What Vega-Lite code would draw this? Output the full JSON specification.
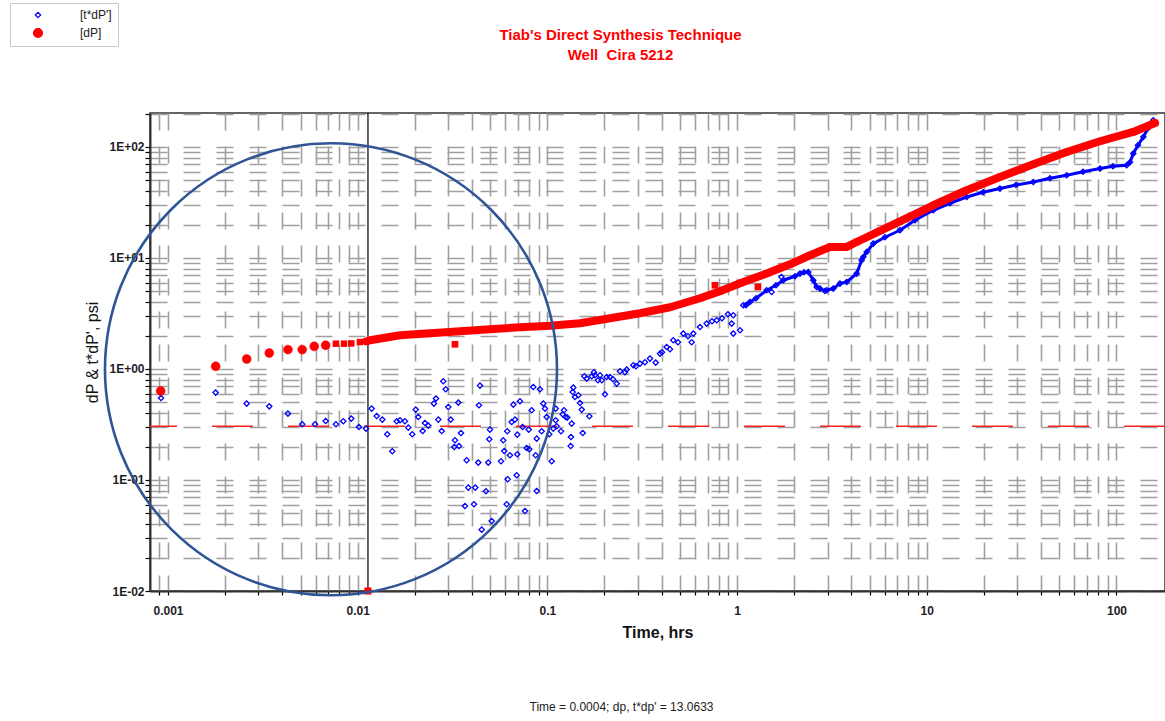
{
  "$schema": "https://vega.github.io/schema/vega-lite/v6.json",
  "width": 1015,
  "height": 478,
  "autosize": {"type": "none"},
  "padding": {"left": 150, "top": 113, "right": 0, "bottom": 130},
  "background": "white",
  "config": {
    "font": "Liberation Sans",
    "view": {"stroke": "#333333", "strokeWidth": 1.5},
    "legend": {
      "orient": "none",
      "legendX": -140,
      "legendY": -110,
      "fillColor": "#ffffff",
      "strokeColor": "#c8c8c8",
      "padding": 6,
      "labelFont": "Liberation Sans",
      "labelFontSize": 12,
      "labelColor": "#222222",
      "symbolOffset": 16,
      "labelOffset": 36,
      "rowPadding": 5,
      "symbolStrokeWidth": 1.2
    }
  },
  "title": {
    "text": ["Tiab's Direct Synthesis Technique", "Well\u00a0\u00a0Cira 5212"],
    "color": "#ff0000",
    "font": "Liberation Sans",
    "fontSize": 15,
    "fontWeight": "bold",
    "anchor": "middle",
    "frame": "group",
    "dx": -37,
    "offset": -60,
    "lineHeight": 20
  },
  "datasets": {
    "tdp": [
      {"t": 0.000919, "p": 0.548, "series": "[t*dP']"},
      {"t": 0.001784, "p": 0.613, "series": "[t*dP']"},
      {"t": 0.0026, "p": 0.488, "series": "[t*dP']"},
      {"t": 0.00342, "p": 0.461, "series": "[t*dP']"},
      {"t": 0.00429, "p": 0.3965, "series": "[t*dP']"},
      {"t": 0.0051, "p": 0.3177, "series": "[t*dP']"},
      {"t": 0.00596, "p": 0.3177, "series": "[t*dP']"},
      {"t": 0.00678, "p": 0.34, "series": "[t*dP']"},
      {"t": 0.00768, "p": 0.3177, "series": "[t*dP']"},
      {"t": 0.0084, "p": 0.338, "series": "[t*dP']"},
      {"t": 0.00925, "p": 0.3573, "series": "[t*dP']"},
      {"t": 0.01016, "p": 0.3002, "series": "[t*dP']"},
      {"t": 0.01106, "p": 0.2904, "series": "[t*dP']"},
      {"t": 0.01185, "p": 0.4396, "series": "[t*dP']"},
      {"t": 0.0126, "p": 0.3773, "series": "[t*dP']"},
      {"t": 0.01348, "p": 0.35, "series": "[t*dP']"},
      {"t": 0.01432, "p": 0.258, "series": "[t*dP']"},
      {"t": 0.01522, "p": 0.1814, "series": "[t*dP']"},
      {"t": 0.01606, "p": 0.338, "series": "[t*dP']"},
      {"t": 0.01671, "p": 0.345, "series": "[t*dP']"},
      {"t": 0.01775, "p": 0.338, "series": "[t*dP']"},
      {"t": 0.01848, "p": 0.2965, "series": "[t*dP']"},
      {"t": 0.0194, "p": 0.258, "series": "[t*dP']"},
      {"t": 0.02022, "p": 0.4306, "series": "[t*dP']"},
      {"t": 0.02087, "p": 0.3695, "series": "[t*dP']"},
      {"t": 0.02201, "p": 0.2763, "series": "[t*dP']"},
      {"t": 0.02263, "p": 0.3263, "series": "[t*dP']"},
      {"t": 0.02356, "p": 0.309, "series": "[t*dP']"},
      {"t": 0.02524, "p": 0.488, "series": "[t*dP']"},
      {"t": 0.02587, "p": 0.5413, "series": "[t*dP']"},
      {"t": 0.0266, "p": 0.35, "series": "[t*dP']"},
      {"t": 0.02773, "p": 0.2763, "series": "[t*dP']"},
      {"t": 0.02826, "p": 0.7748, "series": "[t*dP']"},
      {"t": 0.02911, "p": 0.6565, "series": "[t*dP']"},
      {"t": 0.03004, "p": 0.4546, "series": "[t*dP']"},
      {"t": 0.03093, "p": 0.35, "series": "[t*dP']"},
      {"t": 0.03231, "p": 0.1983, "series": "[t*dP']"},
      {"t": 0.03258, "p": 0.2279, "series": "[t*dP']"},
      {"t": 0.0342, "p": 0.2025, "series": "[t*dP']"},
      {"t": 0.03391, "p": 0.498, "series": "[t*dP']"},
      {"t": 0.03504, "p": 0.2651, "series": "[t*dP']"},
      {"t": 0.03754, "p": 0.1505, "series": "[t*dP']"},
      {"t": 0.03828, "p": 0.0854, "series": "[t*dP']"},
      {"t": 0.03677, "p": 0.0583, "series": "[t*dP']"},
      {"t": 0.04103, "p": 0.0604, "series": "[t*dP']"},
      {"t": 0.04168, "p": 0.0854, "series": "[t*dP']"},
      {"t": 0.04322, "p": 0.1435, "series": "[t*dP']"},
      {"t": 0.04359, "p": 0.471, "series": "[t*dP']"},
      {"t": 0.04412, "p": 0.7086, "series": "[t*dP']"},
      {"t": 0.04745, "p": 0.0791, "series": "[t*dP']"},
      {"t": 0.0488, "p": 0.1435, "series": "[t*dP']"},
      {"t": 0.04981, "p": 0.2845, "series": "[t*dP']"},
      {"t": 0.04939, "p": 0.2326, "series": "[t*dP']"},
      {"t": 0.04506, "p": 0.0357, "series": "[t*dP']"},
      {"t": 0.05086, "p": 0.0427, "series": "[t*dP']"},
      {"t": 0.05693, "p": 0.1474, "series": "[t*dP']"},
      {"t": 0.05926, "p": 0.1825, "series": "[t*dP']"},
      {"t": 0.06102, "p": 0.0604, "series": "[t*dP']"},
      {"t": 0.06176, "p": 0.1015, "series": "[t*dP']"},
      {"t": 0.05854, "p": 0.2279, "series": "[t*dP']"},
      {"t": 0.06146, "p": 0.2747, "series": "[t*dP']"},
      {"t": 0.0635, "p": 0.167, "series": "[t*dP']"},
      {"t": 0.06482, "p": 0.3331, "series": "[t*dP']"},
      {"t": 0.0661, "p": 0.4778, "series": "[t*dP']"},
      {"t": 0.06748, "p": 0.35, "series": "[t*dP']"},
      {"t": 0.06889, "p": 0.1103, "series": "[t*dP']"},
      {"t": 0.0694, "p": 0.2564, "series": "[t*dP']"},
      {"t": 0.0694, "p": 0.1705, "series": "[t*dP']"},
      {"t": 0.07171, "p": 0.5117, "series": "[t*dP']"},
      {"t": 0.0741, "p": 0.3002, "series": "[t*dP']"},
      {"t": 0.0762, "p": 0.0526, "series": "[t*dP']"},
      {"t": 0.0778, "p": 0.1942, "series": "[t*dP']"},
      {"t": 0.08029, "p": 0.189, "series": "[t*dP']"},
      {"t": 0.0797, "p": 0.2845, "series": "[t*dP']"},
      {"t": 0.08266, "p": 0.4245, "series": "[t*dP']"},
      {"t": 0.08429, "p": 0.6884, "series": "[t*dP']"},
      {"t": 0.08677, "p": 0.167, "series": "[t*dP']"},
      {"t": 0.08784, "p": 0.0796, "series": "[t*dP']"},
      {"t": 0.08784, "p": 0.236, "series": "[t*dP']"},
      {"t": 0.0914, "p": 0.6565, "series": "[t*dP']"},
      {"t": 0.09333, "p": 0.2747, "series": "[t*dP']"},
      {"t": 0.09517, "p": 0.488, "series": "[t*dP']"},
      {"t": 0.09712, "p": 0.4396, "series": "[t*dP']"},
      {"t": 0.09915, "p": 0.3695, "series": "[t*dP']"},
      {"t": 0.1023, "p": 0.258, "series": "[t*dP']"},
      {"t": 0.1054, "p": 0.1474, "series": "[t*dP']"},
      {"t": 0.1074, "p": 0.2904, "series": "[t*dP']"},
      {"t": 0.1106, "p": 0.4396, "series": "[t*dP']"},
      {"t": 0.1106, "p": 0.345, "series": "[t*dP']"},
      {"t": 0.1119, "p": 0.3046, "series": "[t*dP']"},
      {"t": 0.118, "p": 0.2747, "series": "[t*dP']"},
      {"t": 0.1204, "p": 0.3907, "series": "[t*dP']"},
      {"t": 0.1224, "p": 0.4245, "series": "[t*dP']"},
      {"t": 0.1249, "p": 0.3695, "series": "[t*dP']"},
      {"t": 0.1273, "p": 0.3649, "series": "[t*dP']"},
      {"t": 0.1327, "p": 0.2025, "series": "[t*dP']"},
      {"t": 0.1332, "p": 0.2441, "series": "[t*dP']"},
      {"t": 0.1343, "p": 0.3222, "series": "[t*dP']"},
      {"t": 0.136, "p": 0.6206, "series": "[t*dP']"},
      {"t": 0.137, "p": 0.6801, "series": "[t*dP']"},
      {"t": 0.1398, "p": 0.5595, "series": "[t*dP']"},
      {"t": 0.1456, "p": 0.5797, "series": "[t*dP']"},
      {"t": 0.1486, "p": 0.4939, "series": "[t*dP']"},
      {"t": 0.1517, "p": 0.4306, "series": "[t*dP']"},
      {"t": 0.1536, "p": 0.2651, "series": "[t*dP']"},
      {"t": 0.1566, "p": 0.8593, "series": "[t*dP']"},
      {"t": 0.1612, "p": 0.8194, "series": "[t*dP']"},
      {"t": 0.1664, "p": 0.375, "series": "[t*dP']"},
      {"t": 0.1713, "p": 0.8593, "series": "[t*dP']"},
      {"t": 0.1761, "p": 0.934, "series": "[t*dP']"},
      {"t": 0.1783, "p": 0.8773, "series": "[t*dP']"},
      {"t": 0.1848, "p": 0.791, "series": "[t*dP']"},
      {"t": 0.1894, "p": 0.8773, "series": "[t*dP']"},
      {"t": 0.1934, "p": 0.791, "series": "[t*dP']"},
      {"t": 0.2012, "p": 0.5918, "series": "[t*dP']"},
      {"t": 0.2054, "p": 0.8471, "series": "[t*dP']"},
      {"t": 0.2138, "p": 0.8471, "series": "[t*dP']"},
      {"t": 0.2218, "p": 0.8077, "series": "[t*dP']"},
      {"t": 0.2318, "p": 0.7386, "series": "[t*dP']"},
      {"t": 0.2413, "p": 0.9534, "series": "[t*dP']"},
      {"t": 0.2565, "p": 0.934, "series": "[t*dP']"},
      {"t": 0.2618, "p": 0.9876, "series": "[t*dP']"},
      {"t": 0.2837, "p": 1.08, "series": "[t*dP']"},
      {"t": 0.2932, "p": 1.058, "series": "[t*dP']"},
      {"t": 0.3076, "p": 1.118, "series": "[t*dP']"},
      {"t": 0.3269, "p": 1.149, "series": "[t*dP']"},
      {"t": 0.3474, "p": 1.241, "series": "[t*dP']"},
      {"t": 0.3724, "p": 1.142, "series": "[t*dP']"},
      {"t": 0.3923, "p": 1.376, "series": "[t*dP']"},
      {"t": 0.4019, "p": 1.414, "series": "[t*dP']"},
      {"t": 0.4256, "p": 1.578, "series": "[t*dP']"},
      {"t": 0.4429, "p": 1.505, "series": "[t*dP']"},
      {"t": 0.461, "p": 1.814, "series": "[t*dP']"},
      {"t": 0.4882, "p": 1.74, "series": "[t*dP']"},
      {"t": 0.5206, "p": 2.084, "series": "[t*dP']"},
      {"t": 0.5511, "p": 1.971, "series": "[t*dP']"},
      {"t": 0.5765, "p": 1.74, "series": "[t*dP']"},
      {"t": 0.5877, "p": 2.084, "series": "[t*dP']"},
      {"t": 0.6375, "p": 2.389, "series": "[t*dP']"},
      {"t": 0.6913, "p": 2.565, "series": "[t*dP']"},
      {"t": 0.7374, "p": 2.69, "series": "[t*dP']"},
      {"t": 0.7806, "p": 2.746, "series": "[t*dP']"},
      {"t": 0.8325, "p": 2.862, "series": "[t*dP']"},
      {"t": 0.8954, "p": 3.111, "series": "[t*dP']"},
      {"t": 0.9365, "p": 2.565, "series": "[t*dP']"},
      {"t": 0.955, "p": 3.046, "series": "[t*dP']"},
      {"t": 0.955, "p": 2.084, "series": "[t*dP']"},
      {"t": 1.036, "p": 2.232, "series": "[t*dP']"},
      {"t": 1.078, "p": 3.749, "series": "[t*dP']"},
      {"t": 1.114, "p": 3.749, "series": "[t*dP']"},
      {"t": 1.169, "p": 4.015, "series": "[t*dP']"},
      {"t": 1.258, "p": 4.335, "series": "[t*dP']"},
      {"t": 1.432, "p": 5.117, "series": "[t*dP']"},
      {"t": 1.604, "p": 5.675, "series": "[t*dP']"},
      {"t": 1.752, "p": 6.297, "series": "[t*dP']"},
      {"t": 2.02, "p": 6.841, "series": "[t*dP']"},
      {"t": 2.146, "p": 7.236, "series": "[t*dP']"},
      {"t": 2.253, "p": 7.432, "series": "[t*dP']"},
      {"t": 2.373, "p": 7.479, "series": "[t*dP']"},
      {"t": 2.522, "p": 6.297, "series": "[t*dP']"},
      {"t": 2.628, "p": 5.481, "series": "[t*dP']"},
      {"t": 2.735, "p": 5.301, "series": "[t*dP']"},
      {"t": 2.907, "p": 5.043, "series": "[t*dP']"},
      {"t": 2.968, "p": 5.117, "series": "[t*dP']"},
      {"t": 3.215, "p": 5.301, "series": "[t*dP']"},
      {"t": 3.486, "p": 5.88, "series": "[t*dP']"},
      {"t": 3.782, "p": 6.078, "series": "[t*dP']"},
      {"t": 4.271, "p": 7.236, "series": "[t*dP']"},
      {"t": 4.538, "p": 9.535, "series": "[t*dP']"},
      {"t": 4.628, "p": 10.21, "series": "[t*dP']"},
      {"t": 4.823, "p": 11.33, "series": "[t*dP']"},
      {"t": 5.224, "p": 13.48, "series": "[t*dP']"},
      {"t": 6.02, "p": 15.37, "series": "[t*dP']"},
      {"t": 7.222, "p": 17.77, "series": "[t*dP']"},
      {"t": 8.666, "p": 21.86, "series": "[t*dP']"},
      {"t": 10.82, "p": 26.9, "series": "[t*dP']"},
      {"t": 13.25, "p": 31.11, "series": "[t*dP']"},
      {"t": 16.23, "p": 35.44, "series": "[t*dP']"},
      {"t": 19.78, "p": 39.07, "series": "[t*dP']"},
      {"t": 24.31, "p": 42.19, "series": "[t*dP']"},
      {"t": 29.53, "p": 45.48, "series": "[t*dP']"},
      {"t": 36.42, "p": 48.39, "series": "[t*dP']"},
      {"t": 44.6, "p": 52.24, "series": "[t*dP']"},
      {"t": 54.63, "p": 55.59, "series": "[t*dP']"},
      {"t": 66.6, "p": 59.79, "series": "[t*dP']"},
      {"t": 81.85, "p": 63.88, "series": "[t*dP']"},
      {"t": 95.85, "p": 66.99, "series": "[t*dP']"},
      {"t": 113.2, "p": 68.39, "series": "[t*dP']"},
      {"t": 117.8, "p": 72.8, "series": "[t*dP']"},
      {"t": 122.6, "p": 87.22, "series": "[t*dP']"},
      {"t": 129.8, "p": 103.6, "series": "[t*dP']"},
      {"t": 138.5, "p": 123.0, "series": "[t*dP']"},
      {"t": 146.6, "p": 147.4, "series": "[t*dP']"},
      {"t": 156.3, "p": 174.0, "series": "[t*dP']"}
    ],
    "tdp_off": [
      {"t": 1.521, "p": 4.94, "series": "[t*dP']"},
      {"t": 1.714, "p": 6.743, "series": "[t*dP']"}
    ],
    "dp": [
      {"t": 0.000915, "p": 0.634, "series": "[dP]"},
      {"t": 0.001784, "p": 1.058, "series": "[dP]"},
      {"t": 0.0026, "p": 1.23, "series": "[dP]"},
      {"t": 0.00342, "p": 1.393, "series": "[dP]"},
      {"t": 0.00429, "p": 1.495, "series": "[dP]"},
      {"t": 0.0051, "p": 1.495, "series": "[dP]"},
      {"t": 0.0059, "p": 1.6, "series": "[dP]"},
      {"t": 0.00678, "p": 1.635, "series": "[dP]"},
      {"t": 0.00768, "p": 1.69, "series": "[dP]"},
      {"t": 0.00847, "p": 1.69, "series": "[dP]"},
      {"t": 0.00925, "p": 1.7, "series": "[dP]"},
      {"t": 0.01028, "p": 1.75, "series": "[dP]"},
      {"t": 0.01115, "p": 1.776, "series": "[dP]"},
      {"t": 0.01161, "p": 1.814, "series": "[dP]"},
      {"t": 0.01671, "p": 2.012, "series": "[dP]"},
      {"t": 0.02405, "p": 2.097, "series": "[dP]"},
      {"t": 0.03462, "p": 2.186, "series": "[dP]"},
      {"t": 0.04981, "p": 2.278, "series": "[dP]"},
      {"t": 0.07171, "p": 2.375, "series": "[dP]"},
      {"t": 0.1032, "p": 2.45, "series": "[dP]"},
      {"t": 0.1486, "p": 2.58, "series": "[dP]"},
      {"t": 0.2138, "p": 2.862, "series": "[dP]"},
      {"t": 0.3076, "p": 3.175, "series": "[dP]"},
      {"t": 0.4429, "p": 3.596, "series": "[dP]"},
      {"t": 0.6375, "p": 4.335, "series": "[dP]"},
      {"t": 0.8124, "p": 5.012, "series": "[dP]"},
      {"t": 1.036, "p": 5.917, "series": "[dP]"},
      {"t": 1.432, "p": 7.236, "series": "[dP]"},
      {"t": 1.901, "p": 8.775, "series": "[dP]"},
      {"t": 2.424, "p": 10.58, "series": "[dP]"},
      {"t": 3.089, "p": 12.57, "series": "[dP]"},
      {"t": 3.782, "p": 12.57, "series": "[dP]"},
      {"t": 4.271, "p": 13.94, "series": "[dP]"},
      {"t": 5.668, "p": 17.58, "series": "[dP]"},
      {"t": 7.222, "p": 21.41, "series": "[dP]"},
      {"t": 10.82, "p": 29.84, "series": "[dP]"},
      {"t": 16.23, "p": 40.73, "series": "[dP]"},
      {"t": 24.31, "p": 53.66, "series": "[dP]"},
      {"t": 36.42, "p": 69.85, "series": "[dP]"},
      {"t": 54.63, "p": 90.15, "series": "[dP]"},
      {"t": 81.85, "p": 112.6, "series": "[dP]"},
      {"t": 122.6, "p": 136.5, "series": "[dP]"},
      {"t": 159.6, "p": 164.5, "series": "[dP]"}
    ],
    "dp_off": [
      {"t": 0.03258, "p": 1.669, "series": "[dP]"},
      {"t": 0.7646, "p": 5.675, "series": "[dP]"},
      {"t": 1.288, "p": 5.481, "series": "[dP]"}
    ],
    "ref": [{"p": 0.305}],
    "cursor": [{"t": 0.01133, "p": 0.01}],
    "circle": [{"t": 0.007232, "p": 0.994}]
  },
  "layer": [
    {
      "data": {"name": "ref"},
      "mark": {"type": "rule", "color": "#ff2020", "strokeWidth": 1.6, "strokeDash": [41, 35]},
      "encoding": {
        "y": {
          "field": "p",
          "type": "quantitative",
          "scale": {"type": "log", "domain": [0.01, 202.3], "nice": false},
          "axis": {
            "title": "dP & t*dP', psi",
            "values": [0.01, 0.02, 0.03, 0.04, 0.05, 0.06, 0.07, 0.08, 0.09, 0.1, 0.2, 0.3, 0.4, 0.5, 0.6, 0.7, 0.8, 0.9, 1, 2, 3, 4, 5, 6, 7, 8, 9, 10, 20, 30, 40, 50, 60, 70, 80, 90, 100, 200],
            "labelExpr": "datum.value == 100 ? '1E+02' : datum.value == 10 ? '1E+01' : datum.value == 1 ? '1E+00' : datum.value == 0.1 ? '1E-01' : datum.value == 0.01 ? '1E-02' : ''",
            "labelOverlap": false,
            "labelFont": "Liberation Sans",
            "labelFontSize": 12,
            "labelFontWeight": "bold",
            "labelColor": "#1e1e28",
            "labelPadding": 1,
            "tickSize": 5,
            "tickColor": "#000000",
            "tickWidth": 1.2,
            "domainColor": "#333333",
            "domainWidth": 2,
            "grid": true,
            "gridDash": [17, 16],
            "gridColor": "#a0a0a0",
            "gridWidth": 1.6,
            "titleFont": "Liberation Sans",
            "titleFontSize": 16,
            "titleFontWeight": "normal",
            "titleColor": "#111111",
            "titlePadding": 8
          }
        }
      }
    },
    {
      "data": {"name": "cursor"},
      "mark": {"type": "rule", "color": "#000000", "strokeWidth": 1.2},
      "encoding": {
        "x": {
          "field": "t",
          "type": "quantitative",
          "scale": {"type": "log", "domain": [0.000804, 180.2], "nice": false},
          "axis": {
            "orient": "bottom",
            "title": "Time = 0.0004; dp, t*dp' = 13.0633",
            "labels": false,
            "ticks": false,
            "domain": false,
            "grid": false,
            "titleFont": "Liberation Sans",
            "titleFontSize": 12,
            "titleFontWeight": "normal",
            "titleColor": "#222222",
            "titlePadding": 110,
            "titleX": 471,
            "titleAlign": "center"
          }
        }
      }
    },
    {
      "data": {"name": "tdp"},
      "mark": {"type": "point", "filled": true, "strokeWidth": 1.3, "opacity": 1},
      "encoding": {
        "x": {
          "field": "t",
          "type": "quantitative",
          "scale": {"type": "log", "domain": [0.000804, 180.2], "nice": false},
          "axis": {
            "orient": "bottom",
            "title": "Time, hrs",
            "values": [0.0009, 0.001, 0.002, 0.003, 0.004, 0.005, 0.006, 0.007, 0.008, 0.009, 0.01, 0.02, 0.03, 0.04, 0.05, 0.06, 0.07, 0.08, 0.09, 0.1, 0.2, 0.3, 0.4, 0.5, 0.6, 0.7, 0.8, 0.9, 1, 2, 3, 4, 5, 6, 7, 8, 9, 10, 20, 30, 40, 50, 60, 70, 80, 90, 100],
            "labelExpr": "indexof([0.001, 0.01, 0.1, 1, 10, 100], datum.value) >= 0 ? format(datum.value, '~g') : ''",
            "labelOverlap": false,
            "labelFlush": false,
            "labelFont": "Liberation Sans",
            "labelFontSize": 12,
            "labelFontWeight": "bold",
            "labelColor": "#1e1e28",
            "labelPadding": 10,
            "tickSize": 4,
            "tickColor": "#000000",
            "tickWidth": 1.2,
            "domainColor": "#333333",
            "domainWidth": 2,
            "grid": true,
            "gridDash": [17, 16],
            "gridColor": "#a0a0a0",
            "gridWidth": 1.6,
            "titleFont": "Liberation Sans",
            "titleFontSize": 16,
            "titleFontWeight": "bold",
            "titleColor": "#111111",
            "titlePadding": 8
          }
        },
        "y": {"field": "p", "type": "quantitative", "scale": {"type": "log", "domain": [0.01, 202.3], "nice": false}},
        "fill": {"field": "series", "type": "nominal", "scale": {"domain": ["[t*dP']", "[dP]"], "range": ["transparent", "#ff0000"]}, "legend": {"title": null}},
        "stroke": {"field": "series", "type": "nominal", "scale": {"domain": ["[t*dP']", "[dP]"], "range": ["#0000ff", "#ff0000"]}, "legend": {"title": null}},
        "shape": {"field": "series", "type": "nominal", "scale": {"domain": ["[t*dP']", "[dP]"], "range": ["diamond", "circle"]}, "legend": {"title": null}},
        "size": {"field": "series", "type": "nominal", "scale": {"domain": ["[t*dP']", "[dP]"], "range": [28, 80]}, "legend": {"title": null}}
      }
    },
    {
      "data": {"name": "tdp_off"},
      "mark": {"type": "point", "shape": "diamond", "filled": false, "color": "#0000ff", "size": 28, "strokeWidth": 1.3, "opacity": 1},
      "encoding": {
        "x": {"field": "t", "type": "quantitative", "scale": {"type": "log", "domain": [0.000804, 180.2], "nice": false}, "axis": null},
        "y": {"field": "p", "type": "quantitative", "scale": {"type": "log", "domain": [0.01, 202.3], "nice": false}}
      }
    },
    {
      "data": {"name": "tdp"},
      "transform": [{"filter": "datum.t > 1.05"}],
      "mark": {"type": "line", "color": "#0000ff", "strokeWidth": 3, "strokeJoin": "round"},
      "encoding": {
        "x": {"field": "t", "type": "quantitative", "scale": {"type": "log", "domain": [0.000804, 180.2], "nice": false}, "axis": null},
        "y": {"field": "p", "type": "quantitative", "scale": {"type": "log", "domain": [0.01, 202.3], "nice": false}}
      }
    },
    {
      "data": {"name": "dp"},
      "transform": [{"filter": "datum.t > 0.011"}],
      "mark": {"type": "line", "color": "#ff0000", "strokeWidth": 8, "strokeJoin": "round", "strokeCap": "round"},
      "encoding": {
        "x": {"field": "t", "type": "quantitative", "scale": {"type": "log", "domain": [0.000804, 180.2], "nice": false}, "axis": null},
        "y": {"field": "p", "type": "quantitative", "scale": {"type": "log", "domain": [0.01, 202.3], "nice": false}}
      }
    },
    {
      "data": {"name": "dp"},
      "transform": [{"filter": "datum.t < 0.0075"}],
      "mark": {"type": "point", "filled": true, "strokeWidth": 0.5, "opacity": 1},
      "encoding": {
        "x": {"field": "t", "type": "quantitative", "scale": {"type": "log", "domain": [0.000804, 180.2], "nice": false}, "axis": null},
        "y": {"field": "p", "type": "quantitative", "scale": {"type": "log", "domain": [0.01, 202.3], "nice": false}},
        "fill": {"field": "series", "type": "nominal", "scale": {"domain": ["[t*dP']", "[dP]"], "range": ["transparent", "#ff0000"]}, "legend": {"title": null}},
        "stroke": {"field": "series", "type": "nominal", "scale": {"domain": ["[t*dP']", "[dP]"], "range": ["#0000ff", "#ff0000"]}, "legend": {"title": null}},
        "shape": {"field": "series", "type": "nominal", "scale": {"domain": ["[t*dP']", "[dP]"], "range": ["diamond", "circle"]}, "legend": {"title": null}},
        "size": {"field": "series", "type": "nominal", "scale": {"domain": ["[t*dP']", "[dP]"], "range": [28, 80]}, "legend": {"title": null}}
      }
    },
    {
      "data": {"name": "dp"},
      "transform": [{"filter": "datum.t >= 0.0075"}],
      "mark": {"type": "point", "filled": true, "shape": "square", "size": 42, "color": "#ff0000", "opacity": 1},
      "encoding": {
        "x": {"field": "t", "type": "quantitative", "scale": {"type": "log", "domain": [0.000804, 180.2], "nice": false}, "axis": null},
        "y": {"field": "p", "type": "quantitative", "scale": {"type": "log", "domain": [0.01, 202.3], "nice": false}}
      }
    },
    {
      "data": {"name": "dp_off"},
      "mark": {"type": "point", "filled": true, "color": "#ff0000", "shape": "square", "size": 45, "opacity": 1},
      "encoding": {
        "x": {"field": "t", "type": "quantitative", "scale": {"type": "log", "domain": [0.000804, 180.2], "nice": false}, "axis": null},
        "y": {"field": "p", "type": "quantitative", "scale": {"type": "log", "domain": [0.01, 202.3], "nice": false}}
      }
    },
    {
      "data": {"name": "cursor"},
      "mark": {"type": "point", "filled": true, "shape": "square", "size": 50, "color": "#ff0000", "opacity": 1},
      "encoding": {
        "x": {"field": "t", "type": "quantitative", "scale": {"type": "log", "domain": [0.000804, 180.2], "nice": false}, "axis": null},
        "y": {"field": "p", "type": "quantitative", "scale": {"type": "log", "domain": [0.01, 202.3], "nice": false}}
      }
    },
    {
      "data": {"name": "circle"},
      "mark": {"type": "point", "shape": "circle", "filled": false, "size": 204304, "stroke": "#2f5597", "strokeWidth": 2.6, "opacity": 1},
      "encoding": {
        "x": {"field": "t", "type": "quantitative", "scale": {"type": "log", "domain": [0.000804, 180.2], "nice": false}, "axis": null},
        "y": {"field": "p", "type": "quantitative", "scale": {"type": "log", "domain": [0.01, 202.3], "nice": false}}
      }
    }
  ],
  "resolve": {"axis": {"x": "independent"}}
}
